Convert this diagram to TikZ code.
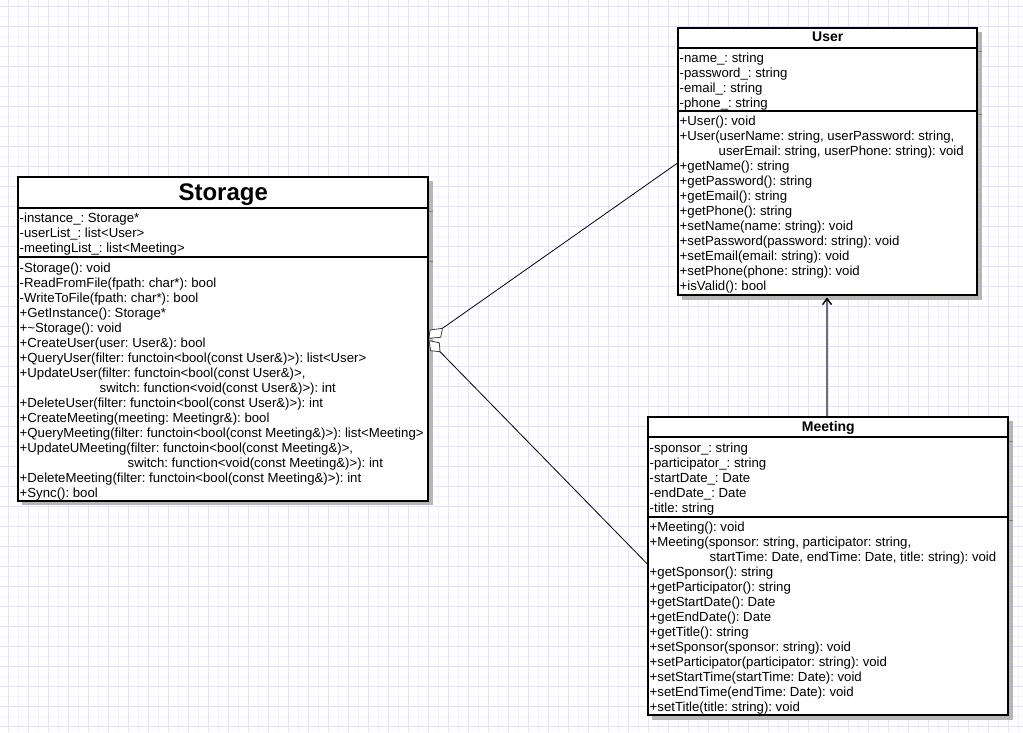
\documentclass[tikz,border=0pt]{standalone}
\usepackage{fontspec}
\setmainfont{Liberation Sans}
\usetikzlibrary{arrows.meta}
\frenchspacing
\definecolor{gridminor}{RGB}{242,242,252}
\definecolor{gridmajor}{RGB}{226,226,250}
\definecolor{shadowc}{RGB}{182,182,182}
\definecolor{shadowl}{RGB}{125,125,125}
\definecolor{depline}{RGB}{110,110,110}
\definecolor{aggc}{RGB}{60,60,60}
\begin{document}
\begin{tikzpicture}[x=1pt,y=-1pt,
  classbox/.style={draw=black,line width=2pt,fill=white,inner sep=0pt,outer sep=0pt,anchor=north west},
  sepline/.style={line width=2pt,black},
  shadowbox/.style={fill=shadowc},
  shadowsep/.style={shadowl,line width=1pt},
  titletext/.style={font=\fontsize{14}{16}\selectfont\bfseries,anchor=base,inner sep=0pt},
  members/.style={font=\fontsize{13.2}{15}\selectfont\frenchspacing,align=left,anchor=north west,inner xsep=0pt,inner ysep=4pt},
  assoc/.style={line width=0.8pt,black},
  agg/.style={draw=aggc,fill=white,line width=0.8pt},
  dep/.style={line width=1.6pt,depline,-{Straight Barb[length=6pt,width=9pt,color=black,line width=1.4pt]}}
]
\useasboundingbox (0,0) rectangle (1023,732);
\fill[white] (0,0) rectangle (1023,732);
% grid
\foreach \i in {0,...,101} {\draw[gridminor,line width=1pt] ({8.3+10*\i},0) -- ({8.3+10*\i},732);}
\foreach \i in {0,...,72} {\draw[gridminor,line width=1pt] (0,{6.7+10*\i}) -- (1023,{6.7+10*\i});}
\foreach \i in {0,...,50} {\draw[gridmajor,line width=1pt] ({8.3+20*\i},0) -- ({8.3+20*\i},732);}
\foreach \i in {0,...,36} {\draw[gridmajor,line width=1pt] (0,{6.7+20*\i}) -- (1023,{6.7+20*\i});}

% shadows
\fill[shadowbox] (22.3,181.3) rectangle (432.5,505);
\draw[shadowsep] (428,211.7) -- (432.5,211.7);
\draw[shadowsep] (428,261.3) -- (432.5,261.3);
\fill[shadowbox] (682.3,32) rectangle (981.8,299.5);
\draw[shadowsep] (977.3,51.7) -- (981.8,51.7);
\draw[shadowsep] (977.3,114.7) -- (981.8,114.7);
\fill[shadowbox] (652.3,421.3) rectangle (1012.8,719.5);
\draw[shadowsep] (1008.3,441.3) -- (1012.8,441.3);
\draw[shadowsep] (1008.3,520.7) -- (1012.8,520.7);

% class boxes
\node[classbox,minimum width=409.7pt,minimum height=323.4pt] (storage) at (18.3,177.3) {};
\node[classbox,minimum width=299pt,minimum height=267pt] (user) at (678.3,28) {};
\node[classbox,minimum width=360pt,minimum height=297.7pt] (meeting) at (648.3,417.3) {};

% connector end points
\coordinate (aggUa) at (430,330);
\coordinate (aggUb) at (442.5,328.3);
\coordinate (aggUc) at (440.7,337.3);
\coordinate (aggUd) at (429,338.3);
\coordinate (aggMa) at (429,340.7);
\coordinate (aggMb) at (439.3,342.7);
\coordinate (aggMc) at (440,351.7);
\coordinate (aggMd) at (430.7,350.7);
\coordinate (userIn) at (678.3,162.5);
\coordinate (meetIn) at (648.3,565);
\coordinate (meetTop) at (827,416.3);
\coordinate (userBot) at (827,297.5);

% connectors
\draw[assoc] (aggUb) -- (userIn);
\draw[assoc] (aggMc) -- (meetIn);
\draw[agg] (aggUa) -- (aggUb) -- (aggUc) -- (aggUd) -- cycle;
\draw[agg] (aggMa) -- (aggMb) -- (aggMc) -- (aggMd) -- cycle;
\draw[dep] (meetTop) -- (userBot);

% Storage
\draw[sepline] (18.3,207.7) -- (428,207.7);
\draw[sepline] (18.3,257.3) -- (428,257.3);
\node[titletext,font=\fontsize{24}{28}\selectfont\bfseries] (stitle) at (223.2,200.7) {Storage};
\node[members] (sattr) at (19.5,207.7) {\strut-instance\_: Storage*\\
\strut-userList\_: list<User>\\
\strut-meetingList\_: list<Meeting>};
\node[members] (sops) at (19.5,257.3) {\strut-Storage(): void\\
\strut-ReadFromFile(fpath: char*): bool\\
\strut-WriteToFile(fpath: char*): bool\\
\strut+GetInstance(): Storage*\\
\strut+\textasciitilde Storage(): void\\
\strut+CreateUser(user: User\&): bool\\
\strut+QueryUser(filter: functoin<bool(const User\&)>): list<User>\\
\strut+UpdateUser(filter: functoin<bool(const User\&)>,\\
\strut\hspace*{80pt}switch: function<void(const User\&)>): int\\
\strut+DeleteUser(filter: functoin<bool(const User\&)>): int\\
\strut+CreateMeeting(meeting: Meetingr\&): bool\\
\strut+QueryMeeting(filter: functoin<bool(const Meeting\&)>): list<Meeting>\\
\strut+UpdateUMeeting(filter: functoin<bool(const Meeting\&)>,\\
\strut\hspace*{108pt}switch: function<void(const Meeting\&)>): int\\
\strut+DeleteMeeting(filter: functoin<bool(const Meeting\&)>): int\\
\strut+Sync(): bool};

% User
\draw[sepline] (678.3,47.7) -- (977.3,47.7);
\draw[sepline] (678.3,110.7) -- (977.3,110.7);
\node[titletext] (utitle) at (827.8,41.7) {User};
\node[members] (uattr) at (679.5,47.7) {\strut-name\_: string\\
\strut-password\_: string\\
\strut-email\_: string\\
\strut-phone\_: string};
\node[members] (uops) at (679.5,110.7) {\strut+User(): void\\
\strut+User(userName: string, userPassword: string,\\
\strut\hspace*{39pt}userEmail: string, userPhone: string): void\\
\strut+getName(): string\\
\strut+getPassword(): string\\
\strut+getEmail(): string\\
\strut+getPhone(): string\\
\strut+setName(name: string): void\\
\strut+setPassword(password: string): void\\
\strut+setEmail(email: string): void\\
\strut+setPhone(phone: string): void\\
\strut+isValid(): bool};

% Meeting
\draw[sepline] (648.3,437.3) -- (1008.3,437.3);
\draw[sepline] (648.3,516.7) -- (1008.3,516.7);
\node[titletext] (mtitle) at (828.3,431.7) {Meeting};
\node[members] (mattr) at (649.5,437.3) {\strut-sponsor\_: string\\
\strut-participator\_: string\\
\strut-startDate\_: Date\\
\strut-endDate\_: Date\\
\strut-title: string};
\node[members] (mops) at (649.5,516.7) {\strut+Meeting(): void\\
\strut+Meeting(sponsor: string, participator: string,\\
\strut\hspace*{60pt}startTime: Date, endTime: Date, title: string): void\\
\strut+getSponsor(): string\\
\strut+getParticipator(): string\\
\strut+getStartDate(): Date\\
\strut+getEndDate(): Date\\
\strut+getTitle(): string\\
\strut+setSponsor(sponsor: string): void\\
\strut+setParticipator(participator: string): void\\
\strut+setStartTime(startTime: Date): void\\
\strut+setEndTime(endTime: Date): void\\
\strut+setTitle(title: string): void};
\end{tikzpicture}
\end{document}
